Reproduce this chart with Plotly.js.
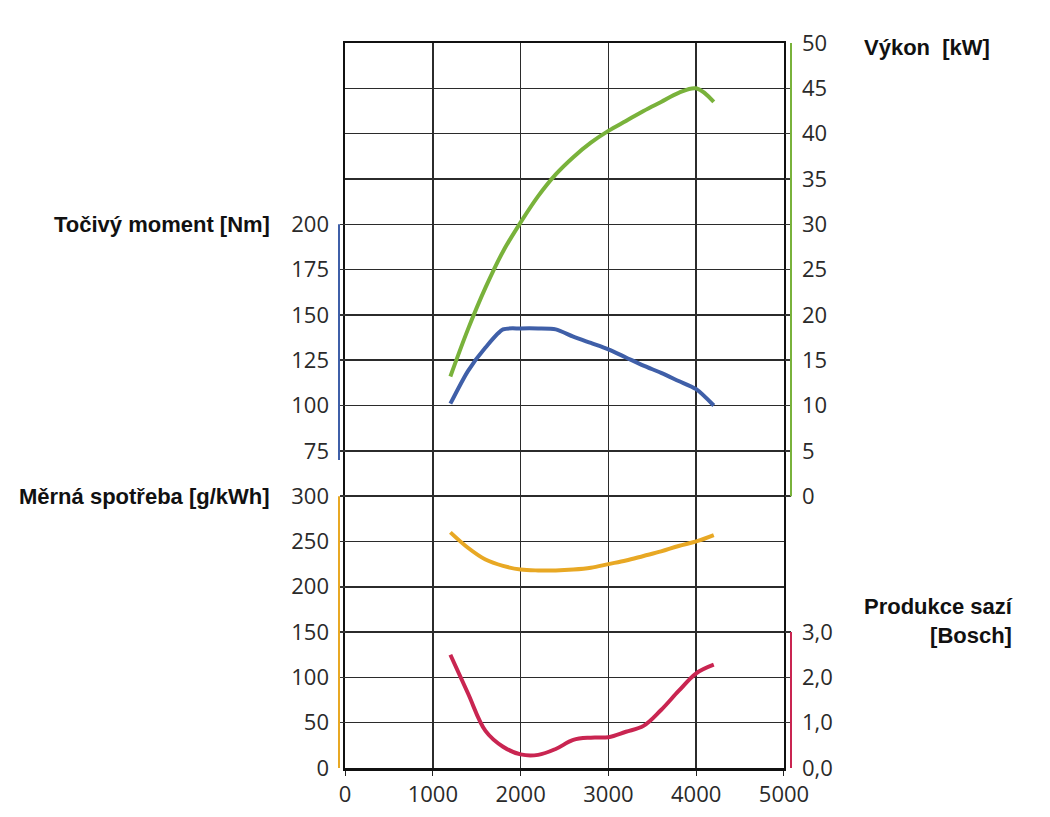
<!DOCTYPE html>
<html>
<head>
<meta charset="utf-8">
<script src="https://cdn.plot.ly/plotly-3.0.1.min.js"></script>
<style>
    body { margin: 0; background: #fff; }
    #chart { width: 1050px; height: 817px; }
</style>
</head>
<body>
<div id="chart"></div>
<script>
// otáčky motoru [1/min]
const rpm = [1200, 1400, 1600, 1800, 2000, 2200, 2400, 2600, 2800, 3000, 3200, 3400, 3600, 3800, 4000, 4200];

// výkon [kW]
const power = [13.2, 18.4, 23.0, 27.0, 30.2, 33.1, 35.5, 37.4, 39.0, 40.3, 41.4, 42.5, 43.5, 44.5, 45.0, 43.5];
// točivý moment [Nm]
const torque = [101, 119, 132, 142, 142.5, 142.5, 142, 138, 134.5, 131, 126.5, 122, 118, 113.5, 109, 100];
// měrná spotřeba [g/kWh]
const consumption = [260, 243, 230, 223, 219, 218, 218, 219, 221, 225, 229, 234, 239, 245, 250, 257];
// produkce sazí [Bosch]
const soot = [2.5, 1.65, 0.82, 0.47, 0.30, 0.29, 0.42, 0.62, 0.67, 0.68, 0.80, 0.93, 1.28, 1.70, 2.09, 2.28];

// popisky os
const rpmTicks = [0, 1000, 2000, 3000, 4000, 5000];
const torqueTicks = [75, 100, 125, 150, 175, 200];
const consumptionTicks = [0, 50, 100, 150, 200, 250, 300];
const powerTicks = [0, 5, 10, 15, 20, 25, 30, 35, 40, 45, 50];
const sootTicks = [0, 1, 2, 3];
const sootTickText = ['0,0', '1,0', '2,0', '3,0'];

const colors = {
    power: '#79b23b',
    torque: '#3f5fa8',
    consumption: '#e8a824',
    soot: '#c92551'
};

const tickFont = { family: 'Open Sans, sans-serif', size: 22, color: '#2a2a2a' };

document.addEventListener('DOMContentLoaded', () => {
    drawChart();
});

function curve(y, axis, color, smoothing) {
    return {
        x: rpm,
        y: y,
        yaxis: axis,
        type: 'scatter',
        mode: 'lines',
        line: { color: color, width: 4, shape: 'spline', smoothing: smoothing },
        hoverinfo: 'x+y'
    };
}

function freeAxis(side, range, ticks, text) {
    const axis = {
        overlaying: 'y',
        anchor: 'free',
        side: side,
        position: side === 'left' ? 0 : 1,
        range: range,
        tickmode: 'array',
        tickvals: ticks,
        showgrid: false,
        zeroline: false,
        showline: false,
        ticks: 'inside',
        ticklen: 6,
        tickwidth: 1.5,
        tickcolor: '#333',
        ticklabelstandoff: 10,
        tickfont: tickFont
    };
    if (text) {
        axis.ticktext = text;
    }
    return axis;
}

function axisLine(xPos, axis, ticks, color) {
    return {
        type: 'line',
        xref: 'paper',
        yref: axis,
        x0: xPos,
        x1: xPos,
        y0: ticks[0],
        y1: ticks[ticks.length - 1],
        line: { color: color, width: 2 }
    };
}

function title(text, x, axis, y, anchor) {
    return {
        text: text,
        xref: 'paper',
        yref: axis,
        x: x,
        y: y,
        xanchor: anchor,
        yanchor: 'middle',
        align: anchor,
        showarrow: false,
        font: { family: 'Liberation Sans, Arial, sans-serif', size: 22, color: '#111', weight: 'bold' }
    };
}

function drawChart() {
    // prázdná stopa, aby existovala základní osa y s mřížkou
    const gridTrace = { x: [], y: [], type: 'scatter', mode: 'lines', hoverinfo: 'skip' };

    const data = [
        gridTrace,
        curve(power, 'y4', colors.power, 1),
        curve(torque, 'y2', colors.torque, 0.7),
        curve(consumption, 'y3', colors.consumption, 1),
        curve(soot, 'y5', colors.soot, 1)
    ];

    const layout = {
        width: 1050,
        height: 817,
        margin: { l: 339, r: 259, t: 43, b: 49 },
        paper_bgcolor: '#fff',
        plot_bgcolor: '#fff',
        showlegend: false,
        xaxis: {
            domain: [0.0133, 0.9845],
            range: [0, 5000],
            tickmode: 'array',
            tickvals: rpmTicks,
            showgrid: true,
            gridcolor: '#2b2b2b',
            gridwidth: 1.5,
            zeroline: false,
            showline: true,
            mirror: true,
            linecolor: '#111',
            linewidth: 2.5,
            ticks: 'outside',
            ticklen: 5,
            tickcolor: '#222',
            tickfont: tickFont
        },
        // pomocná osa jen pro mřížku (16 dílků)
        yaxis: {
            range: [0, 16],
            dtick: 1,
            showticklabels: false,
            showgrid: true,
            gridcolor: '#2b2b2b',
            gridwidth: 1.5,
            zeroline: false,
            showline: true,
            mirror: true,
            linecolor: '#111',
            linewidth: 2.5,
            ticks: ''
        },
        yaxis2: freeAxis('left', [-100, 300], torqueTicks),
        yaxis3: freeAxis('left', [0, 800], consumptionTicks),
        yaxis4: freeAxis('right', [-30, 50], powerTicks),
        yaxis5: freeAxis('right', [0, 16], sootTicks, sootTickText),
        shapes: [
            axisLine(0, 'y2', [70, 200], colors.torque),
            axisLine(0, 'y3', consumptionTicks, colors.consumption),
            axisLine(1, 'y4', powerTicks, colors.power),
            axisLine(1, 'y5', sootTicks, colors.soot)
        ],
        annotations: [
            title('Točivý moment [Nm]', -0.148, 'y2', 200, 'right'),
            title('Měrná spotřeba [g/kWh]', -0.148, 'y3', 300, 'right'),
            title('Výkon  [kW]', 1.157, 'y4', 49.5, 'left'),
            title('Produkce sazí<br>[Bosch]', 1.495, 'y5', 3.25, 'right')
        ]
    };

    Plotly.newPlot('chart', data, layout, { displayModeBar: false, staticPlot: true });
}
</script>
</body>
</html>
